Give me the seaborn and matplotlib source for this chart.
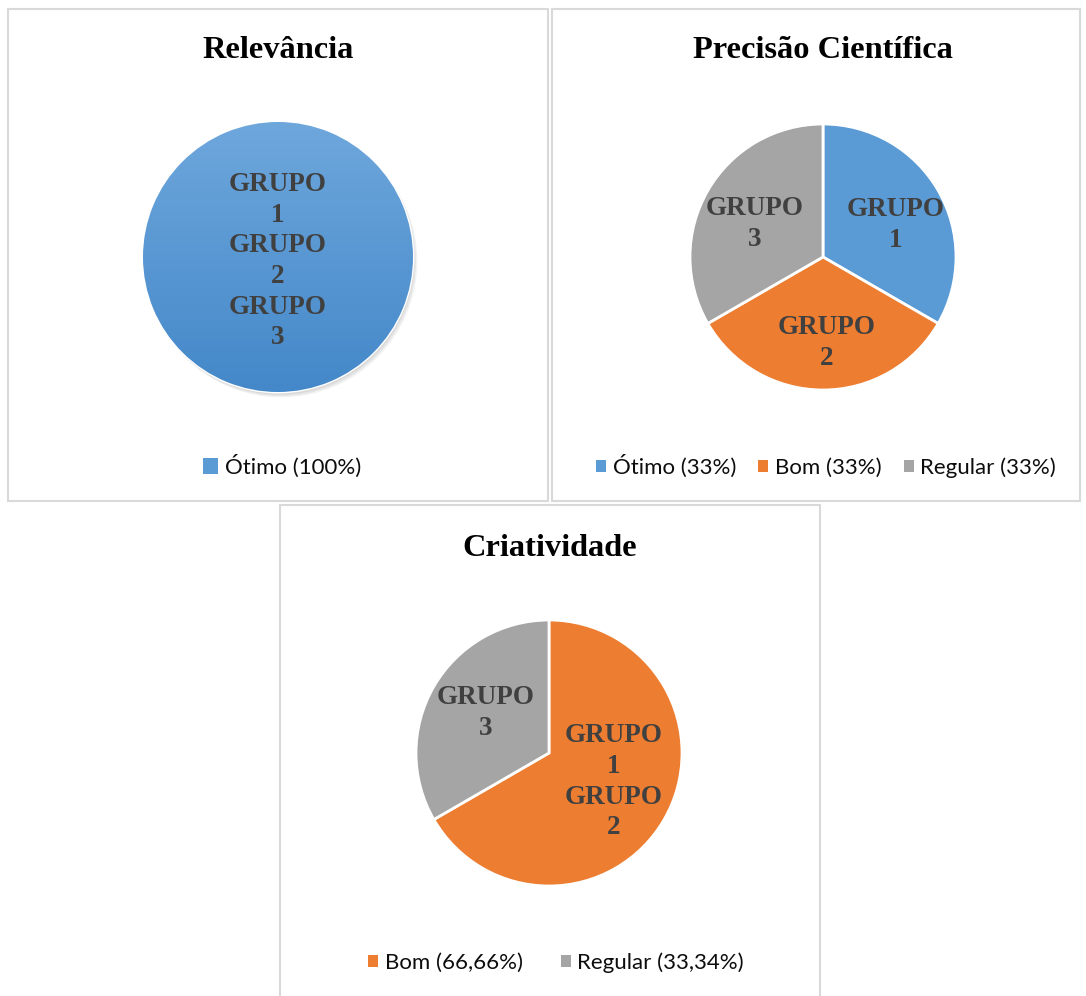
import numpy as np
import matplotlib
matplotlib.use("Agg")
import matplotlib.pyplot as plt
import matplotlib.transforms as mtransforms
import seaborn as sns
from matplotlib.patches import Rectangle, Circle, Patch
from matplotlib.colors import LinearSegmentedColormap

# data
titles = ["Relevância", "Precisão Científica", "Criatividade"]

rel_cats = ["Ótimo"]
rel_labels = ["Ótimo (100%)"]
rel_values = [100]
rel_groups = ["GRUPO\n1\nGRUPO\n2\nGRUPO\n3"]

prec_cats = ["Ótimo", "Bom", "Regular"]
prec_labels = ["Ótimo (33%)", "Bom (33%)", "Regular (33%)"]
prec_values = [33, 33, 33]
prec_groups = ["GRUPO\n1", "GRUPO\n2", "GRUPO\n3"]

cria_cats = ["Bom", "Regular"]
cria_labels = ["Bom (66,66%)", "Regular (33,34%)"]
cria_values = [66.66, 33.34]
cria_groups = ["GRUPO\n1\nGRUPO\n2", "GRUPO\n3"]

sns.set_theme(style="white")
plt.rcParams["font.family"] = ["Lato", "DejaVu Sans"]

pal = sns.color_palette(["#5B9BD5", "#ED7D31", "#A5A5A5"])
colors = {"Ótimo": pal[0], "Bom": pal[1], "Regular": pal[2]}

W, H = 1086, 996
fig = plt.figure(figsize=(W / 100, H / 100), dpi=100)


def fx(px):
    return px / W


def fy(py):
    return 1 - py / H


# panel frames
for x0, y0, x1, y1 in [(8, 9, 548, 501), (552, 9, 1080, 501), (280, 505, 820, 1000)]:
    fig.patches.append(Rectangle((fx(x0), fy(y1)), fx(x1 - x0), (y1 - y0) / H,
                                 transform=fig.transFigure, fill=False,
                                 edgecolor="#D9D9D9", linewidth=1.5))

serif = dict(family="Liberation Serif", fontweight="bold")


def draw_pie(cx, cy, r, cats, values, groups, labeldist, nudges, gradient=False):
    ax = fig.add_axes([fx(cx - r), fy(cy + r), fx(2 * r), 2 * r / H])
    wedges, texts = ax.pie(values, labels=groups, colors=[colors[c] for c in cats],
                           startangle=90, counterclock=False, labeldistance=labeldist,
                           wedgeprops=dict(edgecolor="white", linewidth=2))
    for t, (dx, dy) in zip(texts, nudges):
        t.set_ha("center")
        t.set_va("center")
        t.set_color("#404040")
        t.set_fontsize(19.5)
        t.set_linespacing(1.3)
        t.set(**serif)
        t.set_zorder(5)
        # small pixel nudge so labels sit where Excel put them
        t.set_transform(mtransforms.offset_copy(ax.transData, fig=fig, x=dx, y=-dy, units="dots"))
    if gradient:
        # soft shadow at lower right
        for k, a in enumerate([0.05, 0.05, 0.05]):
            ax.add_patch(Circle((0.012 + 0.006 * k, -0.02 - 0.006 * k), 1.0 + 0.004 * k,
                                color="black", alpha=a, zorder=0.5, linewidth=0))
        cmap = LinearSegmentedColormap.from_list("g", ["#4488C9", "#6EA7DC"])
        grad = np.linspace(0, 1, 256).reshape(-1, 1)
        im = ax.imshow(grad, extent=(-1, 1, -1, 1), origin="lower", cmap=cmap,
                       aspect="auto", zorder=2)
        im.set_clip_path(wedges[0])
    ax.set_xlim(-1.05, 1.05)
    ax.set_ylim(-1.05, 1.05)
    ax.set_axis_off()
    return ax


# scale so that radius 1 equals r pixels inside the 1.05 limits
draw_pie(278, 257, 135 * 1.05, rel_cats, rel_values, rel_groups, 0.03,
         [(0, 0)], gradient=True)
draw_pie(823, 257, 133 * 1.05, prec_cats, prec_values, prec_groups, 0.6,
         [(4, 8), (4, 6), (1, 7)])
draw_pie(549, 753, 133 * 1.05, cria_cats, cria_values, cria_groups, 0.6,
         [(-4, -11), (6, 0)])

# titles
fig.text(fx(278), fy(50), titles[0], ha="center", va="center", fontsize=23.3, color="black", **serif)
fig.text(fx(823), fy(50), titles[1], ha="center", va="center", fontsize=23.3, color="black", **serif)
fig.text(fx(550), fy(548), titles[2], ha="center", va="center", fontsize=23.3, color="black", **serif)


def add_legend(cx, cy, cats, labels, hsize, colspace):
    handles = [Patch(facecolor=colors[c], edgecolor="none") for c in cats]
    fig.legend(handles, labels, loc="center", bbox_to_anchor=(fx(cx), fy(cy)),
               ncol=len(labels), frameon=False, fontsize=16,
               handlelength=hsize, handleheight=hsize, handletextpad=0.3,
               columnspacing=colspace, borderpad=0, labelcolor="#0d0d0d")


add_legend(282, 466, rel_cats, rel_labels, 0.7, 1.0)
add_legend(826, 466, prec_cats, prec_labels, 0.45, 1.0)
add_legend(556, 963, cria_cats, cria_labels, 0.45, 1.7)

fig.savefig("out.png", dpi=100, facecolor="white")
